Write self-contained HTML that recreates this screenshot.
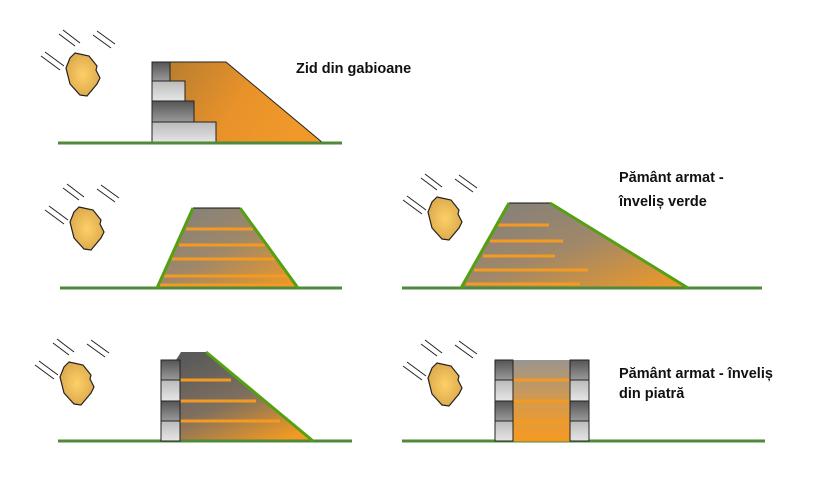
<!DOCTYPE html>
<html><head><meta charset="utf-8"><style>
html,body{margin:0;padding:0;background:#fff;width:816px;height:479px;overflow:hidden}
svg{display:block}
text{font-family:"Liberation Sans","DejaVu Sans",sans-serif;font-weight:bold;font-size:14.5px;fill:#111}
</style></head><body>
<svg width="816" height="479" viewBox="0 0 816 479" xmlns="http://www.w3.org/2000/svg">
<defs>
<radialGradient id="rock" cx="0.5" cy="0.5" r="0.6"><stop offset="0" stop-color="#fcd068"/><stop offset="1" stop-color="#d9a448"/></radialGradient>
<linearGradient id="g1" x1="0" y1="0" x2="1" y2="0.3"><stop offset="0" stop-color="#b07a30"/><stop offset="0.6" stop-color="#e8922a"/><stop offset="1" stop-color="#f0982a"/></linearGradient>
<linearGradient id="g2" x1="0" y1="0" x2="1" y2="1"><stop offset="0" stop-color="#7f7f7f"/><stop offset="0.5" stop-color="#a08868"/><stop offset="1" stop-color="#f39a22"/></linearGradient>
<linearGradient id="g3" x1="0.2" y1="0" x2="0.8" y2="1"><stop offset="0" stop-color="#5a5a5a"/><stop offset="0.5" stop-color="#7f6f5f"/><stop offset="1" stop-color="#f39a22"/></linearGradient>
<linearGradient id="g5" x1="0" y1="0" x2="0" y2="1"><stop offset="0" stop-color="#9a9590"/><stop offset="0.55" stop-color="#d99a48"/><stop offset="1" stop-color="#f59a22"/></linearGradient>
<linearGradient id="dk" x1="0" y1="0" x2="0" y2="1"><stop offset="0" stop-color="#555"/><stop offset="1" stop-color="#9a9a9a"/></linearGradient>
<linearGradient id="lt" x1="0" y1="0" x2="0" y2="1"><stop offset="0" stop-color="#bbb"/><stop offset="1" stop-color="#e6e6e6"/></linearGradient>
<g id="rk">
<path d="M-8,-21 L6,-18 L14,-8 L13,-4 L17,4 L14,10 L4,22 L-3,21 L-13,10 L-17,-6 L-13,-16 Z" fill="url(#rock)" stroke="#222" stroke-width="1.2"/>
<g stroke="#222" stroke-width="1">
<line x1="-20" y1="-44" x2="-3" y2="-31"/><line x1="-24" y1="-40" x2="-8" y2="-28"/>
<line x1="14" y1="-43" x2="32" y2="-30"/><line x1="10" y1="-39" x2="28" y2="-26"/>
<line x1="-38" y1="-22" x2="-19" y2="-8"/><line x1="-42" y1="-18" x2="-23" y2="-4"/>
</g></g>
</defs>

<!-- Panel 1 -->
<use href="#rk" x="83" y="74"/>
<polygon points="152,62 226,62 323,143 152,143" fill="url(#g1)" stroke="#222" stroke-width="1"/>
<rect x="152" y="62" width="18" height="19" fill="url(#dk)" stroke="#222"/>
<rect x="152" y="81" width="33" height="20" fill="url(#lt)" stroke="#222"/>
<rect x="152" y="101" width="42" height="21" fill="url(#dk)" stroke="#222"/>
<rect x="152" y="122" width="64" height="21" fill="url(#lt)" stroke="#222"/>
<line x1="58" y1="143" x2="342" y2="143" stroke="#4e8a3a" stroke-width="3"/>
<text x="296" y="73">Zid din gabioane</text>

<!-- Panel 2 -->
<use href="#rk" x="87" y="228"/>
<polygon points="193,208 240,208 298,288 157,288" fill="url(#g2)"/>
<g stroke="#f39a22" stroke-width="3">
<line x1="186" y1="229" x2="253" y2="229"/><line x1="179" y1="245" x2="265" y2="245"/>
<line x1="172" y1="259" x2="275" y2="259"/><line x1="164" y1="276" x2="289" y2="276"/>
<line x1="160" y1="285" x2="295" y2="285"/></g>
<line x1="193" y1="208" x2="240" y2="208" stroke="#111"/>
<line x1="60" y1="288" x2="342" y2="288" stroke="#4e8a3a" stroke-width="3"/>
<polyline points="157,288 193,208" fill="none" stroke="#55a010" stroke-width="3"/>
<polyline points="240,208 298,288" fill="none" stroke="#55a010" stroke-width="3"/>

<!-- Panel 3 -->
<use href="#rk" x="445" y="218"/>
<polygon points="509,203 550,203 688,288 461,288" fill="url(#g2)"/>
<g stroke="#f39a22" stroke-width="3">
<line x1="498" y1="225" x2="549" y2="225"/><line x1="490" y1="241" x2="563" y2="241"/>
<line x1="483" y1="256" x2="555" y2="256"/><line x1="474" y1="270" x2="588" y2="270"/>
<line x1="466" y1="284" x2="580" y2="284"/></g>
<line x1="509" y1="203" x2="550" y2="203" stroke="#111"/>
<line x1="402" y1="288" x2="762" y2="288" stroke="#4e8a3a" stroke-width="3"/>
<line x1="461" y1="288" x2="509" y2="203" stroke="#55a010" stroke-width="3"/>
<line x1="550" y1="203" x2="688" y2="288" stroke="#55a010" stroke-width="3"/>
<text x="619" y="182">Pământ armat -</text>
<text x="619" y="206">înveliș verde</text>

<!-- Panel 4 -->
<use href="#rk" x="77" y="383"/>
<polygon points="176,360 181,352 206,352 311,440 180,440" fill="url(#g3)"/>
<g stroke="#f39a22" stroke-width="3">
<line x1="180" y1="380" x2="231" y2="380"/><line x1="180" y1="401" x2="256" y2="401"/>
<line x1="180" y1="421" x2="280" y2="421"/></g>
<line x1="58" y1="441" x2="352" y2="441" stroke="#4e8a3a" stroke-width="3"/>
<line x1="206" y1="352" x2="313" y2="441" stroke="#55a010" stroke-width="3"/>
<rect x="161" y="360" width="19" height="20" fill="url(#dk)" stroke="#222"/>
<rect x="161" y="380" width="19" height="21" fill="url(#lt)" stroke="#222"/>
<rect x="161" y="401" width="19" height="20" fill="url(#dk)" stroke="#222"/>
<rect x="161" y="421" width="19" height="20" fill="url(#lt)" stroke="#222"/>

<!-- Panel 5 -->
<use href="#rk" x="445" y="384"/>
<rect x="513" y="360" width="57" height="81" fill="url(#g5)"/>
<line x1="402" y1="441" x2="765" y2="441" stroke="#4e8a3a" stroke-width="3"/>
<g stroke="#f39a22" stroke-width="3">
<line x1="513" y1="380" x2="570" y2="380"/><line x1="513" y1="401" x2="570" y2="401"/>
<line x1="513" y1="421" x2="570" y2="421"/><line x1="513" y1="440" x2="570" y2="440"/></g>
<rect x="495" y="360" width="18" height="20" fill="url(#dk)" stroke="#222"/>
<rect x="495" y="380" width="18" height="21" fill="url(#lt)" stroke="#222"/>
<rect x="495" y="401" width="18" height="20" fill="url(#dk)" stroke="#222"/>
<rect x="495" y="421" width="18" height="20" fill="url(#lt)" stroke="#222"/>
<rect x="570" y="360" width="19" height="20" fill="url(#dk)" stroke="#222"/>
<rect x="570" y="380" width="19" height="21" fill="url(#lt)" stroke="#222"/>
<rect x="570" y="401" width="19" height="20" fill="url(#dk)" stroke="#222"/>
<rect x="570" y="421" width="19" height="20" fill="url(#lt)" stroke="#222"/>
<text x="619" y="378">Pământ armat - înveliș</text>
<text x="619" y="398">din piatră</text>
</svg>
</body></html>
